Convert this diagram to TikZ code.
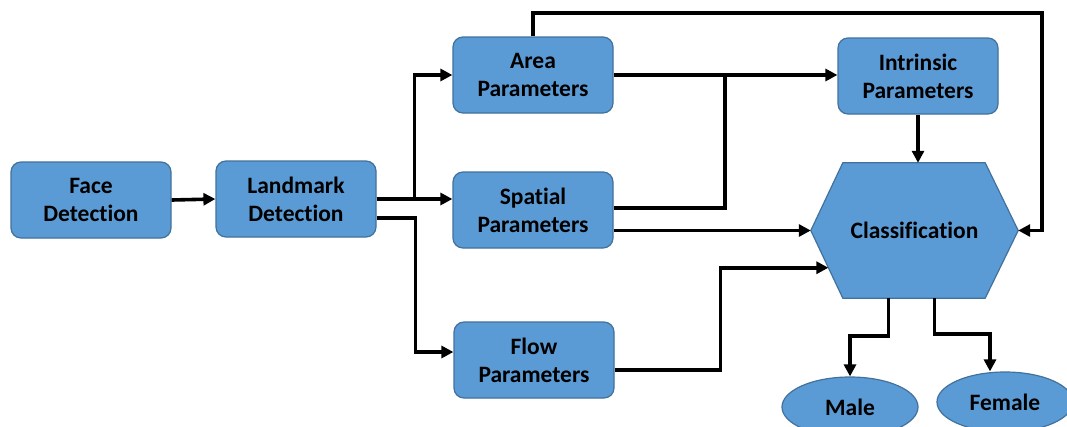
\documentclass[tikz,border=0pt]{standalone}
\usepackage{fontspec}
\setmainfont{Carlito}[Ligatures=NoCommon]
\usetikzlibrary{arrows.meta,calc,backgrounds,shapes.geometric}
\definecolor{boxfill}{RGB}{91,155,213}
\definecolor{boxline}{RGB}{65,113,156}
\newcommand{\blocktext}{\fontsize{23.5}{28}\selectfont\bfseries}
\tikzset{
  blk/.style={rectangle, rounded corners=10pt, draw=boxline, line width=1.2pt,
    fill=boxfill, minimum width=160pt, minimum height=76pt, align=center,
    font=\blocktext, inner sep=2pt},
  oval/.style={ellipse, draw=boxline, line width=1.2pt, fill=boxfill,
    minimum width=136pt, minimum height=60pt, font=\blocktext, inner sep=0pt},
  link/.style={line width=3.6pt},
  arr/.style={link, -{Triangle[length=12pt,width=12pt]}}
}
\begin{document}
\begin{tikzpicture}[x=1pt,y=-1pt]
\clip (0,0) rectangle (1067,426);

% processing blocks
\node[blk] (face) at (91,200) {Face\\Detection};
\node[blk] (lm)   at (296,199) {Landmark\\Detection};
\node[blk] (area) at (533,75)  {Area\\Parameters};
\node[blk] (spat) at (533,210) {Spatial\\Parameters};
\node[blk] (flow) at (534,360) {Flow\\Parameters};
\node[blk] (intr) at (918,76)  {Intrinsic\\Parameters};

% classifier (hexagon drawn behind its label node)
\node[rectangle, minimum width=207pt, minimum height=135pt, inner sep=0pt,
      font=\blocktext] (cls) at (914.5,230.5) {Classification};
\begin{scope}[on background layer]
  \fill[white] (0,0) rectangle (1067,426);
  \draw[boxline, line width=1.2pt, fill=boxfill]
    (cls.west) -- ([xshift=32pt]cls.north west) -- ([xshift=-33pt]cls.north east)
    -- (cls.east) -- ([xshift=-33pt]cls.south east) -- ([xshift=32pt]cls.south west)
    -- cycle;
\end{scope}

% outputs
\node[oval] (male) at (850,407) {Male};
\node[oval] (fem)  at (1005,402) {Female};

% helper points
\coordinate (junc) at (725,75);
\coordinate (loop) at (1042,13);
\coordinate (clsin) at ($(cls.west)!0.55!([xshift=32pt]cls.south west)$);

% connectors
\draw[arr] (face.east) -- (lm.west);
\draw[arr] (lm.east) -- ++(38,0) |- (area.west);
\draw[arr] (lm.east) -- (lm.east -| spat.west);
\draw[arr] ([yshift=-19pt]lm.east) -- ++(39,0) |- ([yshift=8pt]flow.west);
\draw[arr] (area.east) -- (area.east -| intr.west);
\draw[link] ([yshift=2pt]spat.east) -| (junc);
\draw[arr] (spat.east |- cls.west) -- (cls.west);
\draw[arr] ([yshift=-10pt]flow.east) -- ++(106,0) |- (clsin);
\draw[arr] (area.north) |- (loop) |- (cls.east);
\draw[arr] (intr.south) -- (intr.south |- cls.north);
\draw[arr] ([xshift=-26pt]cls.south) -- ++(0,38) -| (male.north);
\draw[arr] ([xshift=20pt]cls.south) -- ++(0,36) -| ([xshift=-15pt]fem.north);
\end{tikzpicture}
\end{document}
